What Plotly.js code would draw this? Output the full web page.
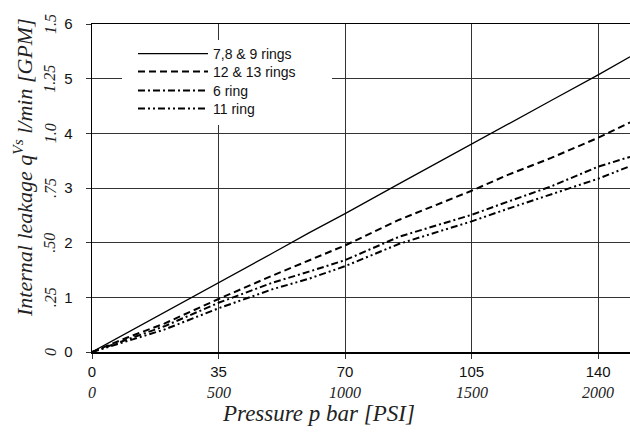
<!DOCTYPE html>
<html>
<head>
<meta charset="utf-8">
<script src="https://cdn.plot.ly/plotly-3.0.1.min.js"></script>
<style>html,body{margin:0;padding:0;background:#fff;}#chart{width:630px;height:433px;}</style>
</head>
<body>
<div id="chart"></div>
<script>
// Data
const pressureBar = [0, 10, 20, 35, 50, 60, 70, 85, 105, 115, 127, 140, 148.8];
const rings789 = [0, 0.36, 0.72, 1.27, 1.81, 2.18, 2.53, 3.08, 3.81, 4.16, 4.60, 5.07, 5.40];
const rings1213 = [0, 0.27, 0.52, 0.97, 1.40, 1.67, 1.95, 2.42, 2.95, 3.24, 3.55, 3.92, 4.20];
const ring6 = [0, 0.24, 0.47, 0.90, 1.27, 1.47, 1.68, 2.11, 2.51, 2.75, 3.03, 3.39, 3.57];
const ring11 = [0, 0.21, 0.41, 0.80, 1.15, 1.34, 1.57, 1.98, 2.39, 2.62, 2.88, 3.17, 3.40];
const seriesNames = ["7,8 & 9 rings", "12 & 13 rings", "6 ring", "11 ring"];

const xTickVals = [0, 35, 70, 105, 140];
const xTickText = ["0", "35", "70", "105", "140"];
const psiTickText = ["0", "500", "1000", "1500", "2000"];
const yTickVals = [0, 1, 2, 3, 4, 5, 6];
const yTickText = ["0", "1", "2", "3", "4", "5", "6"];
const gpmTickText = ["0", ".25", ".50", ".75", "1.0", "1.25", "1.5"];

const xTitle = "Pressure p bar [PSI]";
const yTitle = "Internal leakage q<sup>Vs</sup> l/min [GPM]";

const styles = [
  {width: 1.3, dash: "solid"},
  {width: 2, dash: "7px,4px"},
  {width: 2, dash: "7px,3px,2px,3px"},
  {width: 2, dash: "7px,3px,2px,3px,2px,3px"}
];
const seriesVals = [rings789, rings1213, ring6, ring11];
const legendIds = ["legend", "legend2", "legend3", "legend4"];
const legendRowPx = [54, 72, 91, 109];

const traces = seriesVals.map((v, i) => ({
  type: "scatter", mode: "lines", x: pressureBar, y: v, name: seriesNames[i],
  legend: legendIds[i],
  line: {color: "#000", width: styles[i].width, dash: styles[i].dash},
  hoverinfo: "skip"
}));

const L = 92, R = 0, T = 24, B = 81, W = 630, H = 433;
const pw = W - L - R, ph = H - T - B;
const px2x = p => (p - L) / pw;
const px2y = p => (H - B - p) / ph;

const serif = "Liberation Serif";
const sans = "Liberation Sans";
const annotations = [];
psiTickText.forEach((t, i) => annotations.push({
  text: t, x: xTickVals[i], xref: "x", y: px2y(392), yref: "paper",
  showarrow: false, xanchor: "center", yanchor: "middle",
  font: {family: serif, size: 16, style: "italic", color: "#222"}
}));
gpmTickText.forEach((t, i) => annotations.push({
  text: t, x: px2x(50), xref: "paper", y: yTickVals[i], yref: "y",
  showarrow: false, xanchor: "center", yanchor: "middle", textangle: -90,
  font: {family: serif, size: 16, style: "italic", color: "#222"}
}));
annotations.push({
  text: xTitle, x: px2x(318), xref: "paper", y: px2y(413), yref: "paper",
  showarrow: false, xanchor: "center", yanchor: "middle",
  font: {family: serif, size: 23, style: "italic", color: "#222"}
});
annotations.push({
  text: yTitle, x: px2x(23), xref: "paper", y: px2y(168), yref: "paper",
  showarrow: false, xanchor: "center", yanchor: "middle", textangle: -90,
  font: {family: serif, size: 22, style: "italic", color: "#222"}
});

const layout = {
  width: W, height: H,
  margin: {l: L, r: R, t: T, b: B, pad: 0},
  paper_bgcolor: "#fff", plot_bgcolor: "#fff",
  showlegend: true,
  xaxis: {
    range: [0, 148.8], tickmode: "array", tickvals: xTickVals, ticktext: xTickText,
    showgrid: true, gridcolor: "#333", gridwidth: 1,
    showline: true, linecolor: "#000", linewidth: 1.5, mirror: true,
    ticks: "outside", ticklen: 5, tickcolor: "#333",
    zeroline: false,
    tickfont: {family: sans, size: 15, color: "#111"}
  },
  yaxis: {
    range: [0, 6], tickmode: "array", tickvals: yTickVals, ticktext: yTickText,
    showgrid: true, gridcolor: "#333", gridwidth: 1,
    showline: true, linecolor: "#000", linewidth: 1.5,
    ticks: "outside", ticklen: 5, tickcolor: "#333",
    ticklabelstandoff: 10,
    zeroline: false,
    tickfont: {family: sans, size: 15, color: "#111"}
  },
  shapes: [{
    type: "rect", xref: "paper", yref: "paper", layer: "above",
    x0: px2x(122), x1: px2x(332), y0: px2y(125), y1: px2y(40),
    fillcolor: "#fff", line: {width: 0}
  }],
  annotations: annotations
};
legendIds.forEach((id, i) => {
  layout[id] = {
    x: px2x(133), y: px2y(legendRowPx[i]), xanchor: "left", yanchor: "middle",
    bgcolor: "rgba(0,0,0,0)", borderwidth: 0, itemwidth: 70,
    font: {family: sans, size: 14, color: "#111"}
  };
});

Plotly.newPlot("chart", traces, layout, {staticPlot: true, displayModeBar: false});
</script>
</body>
</html>
